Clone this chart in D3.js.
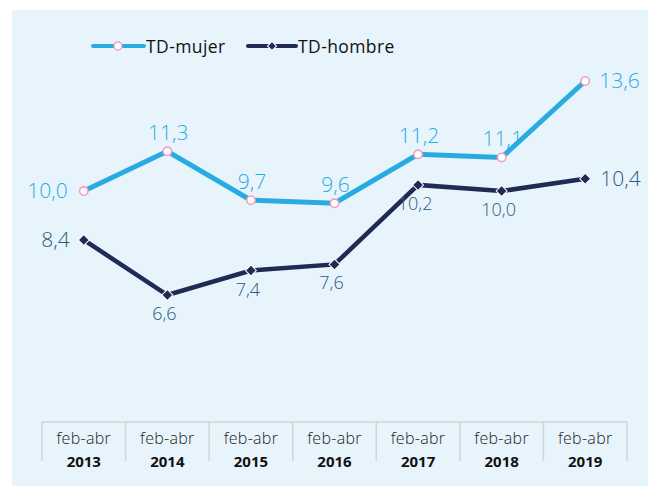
<!DOCTYPE html>
<html><head><meta charset="utf-8">
<script src="https://cdn.jsdelivr.net/npm/d3@7"></script>
<style>html,body{margin:0;padding:0;background:#fff;}svg{display:block;}</style>
</head><body>
<svg id="c" width="650" height="486"></svg>
<script>
const periods = ["feb-abr","feb-abr","feb-abr","feb-abr","feb-abr","feb-abr","feb-abr"];
const years = ["2013","2014","2015","2016","2017","2018","2019"];
const mujer = [10.0, 11.3, 9.7, 9.6, 11.2, 11.1, 13.6];
const hombre = [8.4, 6.6, 7.4, 7.6, 10.2, 10.0, 10.4];
const seriesNames = ["TD-mujer", "TD-hombre"];

const svg = d3.select("#c");
const FONT = "'Open Sans', 'Noto Sans', sans-serif";
const W = 300;
svg.append("rect").attr("x",12).attr("y",10).attr("width",636).attr("height",476).attr("fill","#e8f4fc");

const x = d3.scaleBand().domain(years).range([42, 627]);
const y = d3.scaleLinear().domain([4, 16]).range([374.5, 7.6]);
const cx = i => x(years[i]) + x.bandwidth()/2;

// axis box
const g = svg.append("g");
g.append("line").attr("x1",42).attr("x2",627).attr("y1",422).attr("y2",422).attr("stroke","#d4d4d4").attr("stroke-width",1.5);
const bounds = years.map(d => x(d)).concat([627]);
bounds.forEach(b => g.append("line").attr("x1",b).attr("x2",b).attr("y1",422).attr("y2",461).attr("stroke","#d4d4d4").attr("stroke-width",1.5));
years.forEach((yr,i) => {
  g.append("text").attr("x",cx(i)).attr("y",444).attr("text-anchor","middle").attr("font-family",FONT).attr("font-weight",W).attr("font-size",16).attr("letter-spacing",0.3).attr("fill","#222").text(periods[i]);
  g.append("text").attr("x",cx(i)).attr("y",467).attr("text-anchor","middle").attr("font-family",FONT).attr("font-weight","bold").attr("font-size",15).attr("fill","#111").text(yr);
});

const line = d3.line().x((d,i)=>cx(i)).y(d=>y(d));
const cM = "#29abe2", cH = "#1f2a55", cHl = "#2d5a80";
svg.append("path").datum(mujer).attr("d",line).attr("fill","none").attr("stroke",cM).attr("stroke-width",5);
svg.append("path").datum(hombre).attr("d",line).attr("fill","none").attr("stroke",cH).attr("stroke-width",4.5);

const diamond = d3.symbol().type(d3.symbolSquare).size(60);
mujer.forEach((v,i)=> svg.append("circle").attr("cx",cx(i)).attr("cy",y(v)).attr("r",4.2).attr("fill","#fff").attr("stroke","#f2a0bf").attr("stroke-width",1.6));
hombre.forEach((v,i)=> svg.append("path").attr("d",diamond).attr("transform",`translate(${cx(i)},${y(v)}) rotate(45)`).attr("fill",cH).attr("stroke","#fff").attr("stroke-width",1));

const fmt = v => v.toFixed(1).replace(".", ",");
// mujer labels
mujer.forEach((v,i)=>{
  const t = svg.append("text").attr("font-family",FONT).attr("font-weight",W).attr("font-size",21).attr("fill",cM).text(fmt(v));
  if (i===0) t.attr("x",cx(i)-16).attr("y",y(v)+7).attr("text-anchor","end");
  else if (i===6) t.attr("x",cx(i)+14).attr("y",y(v)+7).attr("text-anchor","start");
  else t.attr("x",cx(i)+1).attr("y",y(v)-11).attr("text-anchor","middle");
});
hombre.forEach((v,i)=>{
  const t = svg.append("text").attr("font-family",FONT).attr("font-weight",W).attr("fill",cHl).text(fmt(v));
  if (i===0) t.attr("font-size",21).attr("x",cx(i)-14).attr("y",y(v)+7).attr("text-anchor","end");
  else if (i===6) t.attr("font-size",21).attr("x",cx(i)+15).attr("y",y(v)+7).attr("text-anchor","start");
  else t.attr("font-size",18).attr("x",cx(i)-3).attr("y",y(v)+25).attr("text-anchor","middle");
});

// legend
const lg = svg.append("g");
lg.append("line").attr("x1",93).attr("x2",144).attr("y1",46).attr("y2",46).attr("stroke",cM).attr("stroke-width",4).attr("stroke-linecap","round");
lg.append("circle").attr("cx",118).attr("cy",46).attr("r",4).attr("fill","#fff").attr("stroke","#f2a0bf").attr("stroke-width",1.5);
lg.append("text").attr("x",146).attr("y",52.5).attr("font-family",FONT).attr("font-size",17.5).attr("letter-spacing",0.4).attr("fill","#111").text(seriesNames[0]);
lg.append("line").attr("x1",248).attr("x2",296).attr("y1",46).attr("y2",46).attr("stroke",cH).attr("stroke-width",4).attr("stroke-linecap","round");
lg.append("path").attr("d",d3.symbol().type(d3.symbolSquare).size(40)).attr("transform","translate(272,46) rotate(45)").attr("fill",cH).attr("stroke","#fff").attr("stroke-width",1);
lg.append("text").attr("x",298).attr("y",52.5).attr("font-family",FONT).attr("font-size",17.5).attr("letter-spacing",0.4).attr("fill","#111").text(seriesNames[1]);
</script>
</body></html>
